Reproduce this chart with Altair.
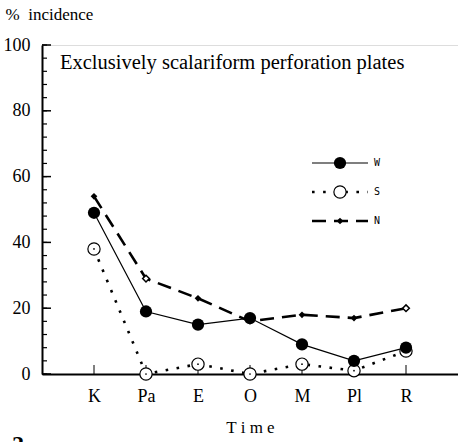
import altair as alt
import pandas as pd

categories = ["K", "Pa", "E", "O", "M", "Pl", "R"]
w_values = [49, 19, 15, 17, 9, 4, 8]
s_values = [38, 0, 3, 0, 3, 1, 7]
n_values = [54, 29, 23, 16, 18, 17, 20]
n_open = ["Pa", "R"]
y_major = [0, 20, 40, 60, 80, 100]
y_minor = list(range(0, 101, 4))

SERIF = "Liberation Serif"
W, H = 416, 329

rows = []
for c, w, s, n in zip(categories, w_values, s_values, n_values):
    rows.append({"cat": c, "series": "W", "v": w})
    rows.append({"cat": c, "series": "S", "v": s})
    rows.append({"cat": c, "series": "N", "v": n, "open": c in n_open})
df = pd.DataFrame(rows)
df["open"] = df["open"].fillna(False).astype(bool)

xs = alt.Scale(type="point", domain=categories, padding=1)
ys = alt.Scale(domain=[0, 100], nice=False, zero=True)

x_enc = alt.X("cat:N", scale=xs, sort=categories,
              axis=alt.Axis(title="T i m e", labelAngle=0, ticks=False,
                            labelFont=SERIF, labelFontSize=18, labelColor="black",
                            labelPadding=13, domainColor="black", domainWidth=2,
                            titleFont=SERIF, titleFontSize=17, titleFontWeight="normal",
                            titleColor="black", titlePadding=14, grid=False))
y_enc = alt.Y("v:Q", scale=ys,
              axis=alt.Axis(values=y_major, tickSize=0, labelPadding=12,
                            labelFont=SERIF, labelFontSize=18, labelColor="black",
                            domainColor="black", domainWidth=2, grid=False,
                            title="%\u00a0\u00a0incidence", titleAngle=0, titleX=-37, titleY=-31,
                            titleAlign="left", titleBaseline="middle",
                            titleFont=SERIF, titleFontSize=17, titleFontWeight="normal",
                            titleColor="black"))

base = alt.Chart(df)

line_w = base.transform_filter(alt.datum.series == "W").mark_line(
    color="black", strokeWidth=1.2).encode(x=x_enc, y=y_enc)
line_s = base.transform_filter(alt.datum.series == "S").mark_line(
    color="black", strokeWidth=2.6, strokeDash=[2.6, 8.5], strokeCap="butt").encode(x=x_enc, y=y_enc)
line_n = base.transform_filter(alt.datum.series == "N").mark_line(
    color="black", strokeWidth=2.6, strokeDash=[14, 8]).encode(x=x_enc, y=y_enc)

pt_w = base.transform_filter(alt.datum.series == "W").mark_point(
    shape="circle", filled=True, color="black", size=150, opacity=1).encode(x=x_enc, y=y_enc)
pt_s = base.transform_filter(alt.datum.series == "S").mark_point(
    shape="circle", fill="white", stroke="black", strokeWidth=1.2, size=150, opacity=1).encode(x=x_enc, y=y_enc)
pt_s_dot = base.transform_filter(alt.datum.series == "S").mark_point(
    shape="circle", filled=True, color="black", size=3, opacity=1).encode(x=x_enc, y=y_enc)
pt_n_fill = base.transform_filter((alt.datum.series == "N") & (~alt.datum.open)).mark_point(
    shape="diamond", filled=True, color="black", size=45, opacity=1).encode(x=x_enc, y=y_enc)
pt_n_open = base.transform_filter((alt.datum.series == "N") & (alt.datum.open)).mark_point(
    shape="diamond", fill="white", stroke="black", strokeWidth=1.5, size=45, opacity=1).encode(x=x_enc, y=y_enc)

# inward ticks
xt = alt.Chart(pd.DataFrame({"cat": categories})).mark_rule(color="black", strokeWidth=1).encode(
    x=alt.X("cat:N", scale=xs, sort=categories), y=alt.value(H), y2=alt.value(H - 9))
ytmaj = alt.Chart(pd.DataFrame({"t": y_major})).mark_rule(color="black", strokeWidth=1.5).encode(
    y=alt.Y("t:Q", scale=ys), x=alt.value(0), x2=alt.value(9))
ytmin = alt.Chart(pd.DataFrame({"t": y_minor})).mark_rule(color="black", strokeWidth=1.2).encode(
    y=alt.Y("t:Q", scale=ys), x=alt.value(0), x2=alt.value(5))

title = alt.Chart(pd.DataFrame({"t": ["Exclusively scalariform perforation plates"]})).mark_text(
    font=SERIF, fontSize=20.5, align="left", baseline="middle", color="black").encode(
    text="t:N", x=alt.value(18), y=alt.value(18))

fig = alt.Chart(pd.DataFrame({"t": ["2"]})).mark_text(
    font=SERIF, fontSize=24, fontWeight="bold", align="left", baseline="alphabetic", color="black").encode(
    text="t:N", x=alt.value(-30), y=alt.value(407))

# legend
leg_series = ["W", "S", "N"]
leg_y = [118, 147, 176]
legend_layers = []
styles = {
    "W": dict(strokeWidth=1.2),
    "S": dict(strokeWidth=2.6, strokeDash=[2.6, 8.5], strokeCap="butt"),
    "N": dict(strokeWidth=2.6, strokeDash=[14, 8]),
}
for s, yy in zip(leg_series, leg_y):
    d = pd.DataFrame({"label": [s]})
    legend_layers.append(alt.Chart(d).mark_rule(color="black", **styles[s]).encode(
        x=alt.value(270), x2=alt.value(326), y=alt.value(yy)))
    if s == "W":
        legend_layers.append(alt.Chart(d).mark_point(shape="circle", filled=True, color="black",
                                                     size=150, opacity=1).encode(x=alt.value(298), y=alt.value(yy)))
    elif s == "S":
        legend_layers.append(alt.Chart(d).mark_point(shape="circle", fill="white", stroke="black",
                                                     strokeWidth=1.2, size=150, opacity=1).encode(x=alt.value(298), y=alt.value(yy)))
    else:
        legend_layers.append(alt.Chart(d).mark_point(shape="diamond", filled=True, color="black",
                                                     size=45, opacity=1).encode(x=alt.value(298), y=alt.value(yy)))
    legend_layers.append(alt.Chart(d).mark_text(font="DejaVu Sans Mono", fontSize=10, align="left",
                                                baseline="middle", color="black").encode(
        text="label:N", x=alt.value(332), y=alt.value(yy)))

chart = alt.layer(
    line_n, line_s, line_w, xt, ytmaj, ytmin,
    pt_n_fill, pt_n_open, pt_s, pt_s_dot, pt_w, title, fig, *legend_layers
).properties(
    width=W, height=H,
    padding={"left": 42, "top": 45, "right": 0, "bottom": 68},
    autosize=alt.AutoSizeParams(type="none"),
).configure_view(stroke=None).configure(background="white")

chart.save("out.html", embed_options={"renderer": "svg", "actions": False})
